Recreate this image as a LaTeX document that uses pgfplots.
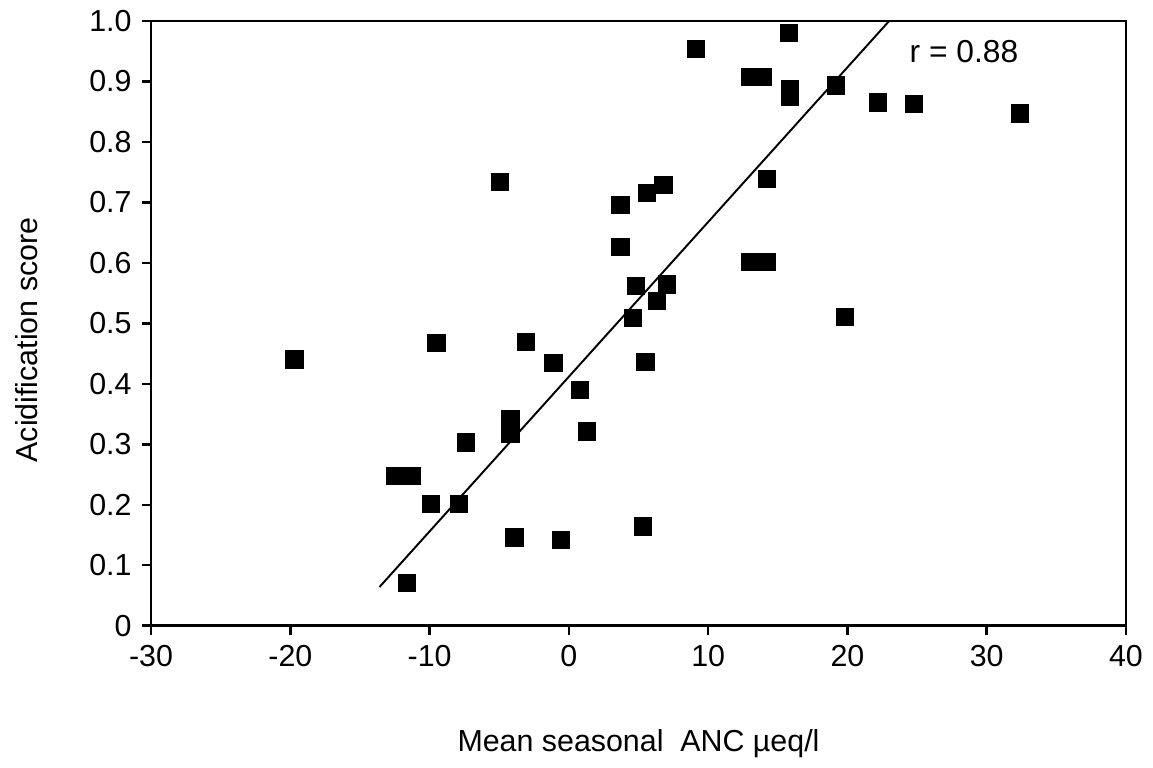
\documentclass[border=0pt]{standalone}
\usepackage{fontspec}
\setmainfont{Liberation Sans}
\usepackage{pgfplots}
\pgfplotsset{compat=1.18}
\begin{document}
\fontsize{11}{13}\selectfont
\begin{tikzpicture}
\begin{axis}[
  scale only axis,
  width=353pt, height=219pt,
  xmin=-30, xmax=40, ymin=0, ymax=1.0,
  xtick={-30,-20,-10,0,10,20,30,40},
  xticklabels={-30,-20,-10,0,10,20,30,40},
  ytick={0,0.1,0.2,0.3,0.4,0.5,0.6,0.7,0.8,0.9,1.0},
  yticklabels={0,0.1,0.2,0.3,0.4,0.5,0.6,0.7,0.8,0.9,1.0},
  tick align=outside,
  xtick pos=bottom, ytick pos=left,
  major tick length=3.2pt,
  tick style={black, line width=0.9pt},
  axis line style={line width=1pt},
  ticklabel style={font=\fontsize{11}{13}\selectfont},
  label style={font=\fontsize{11}{13}\selectfont},
  xlabel={Mean seasonal\ \ ANC \textmu eq/l},
  ylabel={Acidification score},
  xlabel shift=15pt,
  ylabel shift=11pt,
  ylabel style={xshift=-6pt},
  clip=false,
]
\addplot[only marks, mark=square*, mark size=3.1pt, black] coordinates {
(-19.7,0.44)
(-12.5,0.248) (-11.3,0.248)
(-9.5,0.467)
(-3.1,0.469)
(-1.1,0.435)
(5.5,0.436)
(0.8,0.390)
(-4.2,0.341) (-4.2,0.317)
(1.3,0.321)
(-7.4,0.303)
(-9.9,0.201)
(-7.9,0.201)
(-3.9,0.146)
(-0.55,0.142)
(5.3,0.164)
(-11.6,0.071)
(-4.95,0.734)
(9.1,0.954)
(13.0,0.907) (13.9,0.907)
(3.7,0.696)
(5.6,0.715)
(6.8,0.729)
(3.7,0.626)
(13.0,0.602) (13.6,0.602) (14.25,0.602)
(4.8,0.562)
(7.05,0.564)
(6.3,0.537)
(4.6,0.509)
(14.25,0.738)
(15.8,0.980)
(15.9,0.887) (15.9,0.874)
(19.2,0.893)
(22.2,0.865)
(24.8,0.863)
(32.4,0.847)
(19.85,0.510)
};
\addplot[black, line width=0.7pt] coordinates {(-13.6,0.064) (23.0,1.0)};
\node[anchor=west, font=\fontsize{11.5}{13}\selectfont] at (axis cs:23.7,0.95) {r = 0.88};
\end{axis}
\path (-54.7pt,-47.5pt) rectangle (360.4pt,226.4pt);
\end{tikzpicture}
\end{document}
